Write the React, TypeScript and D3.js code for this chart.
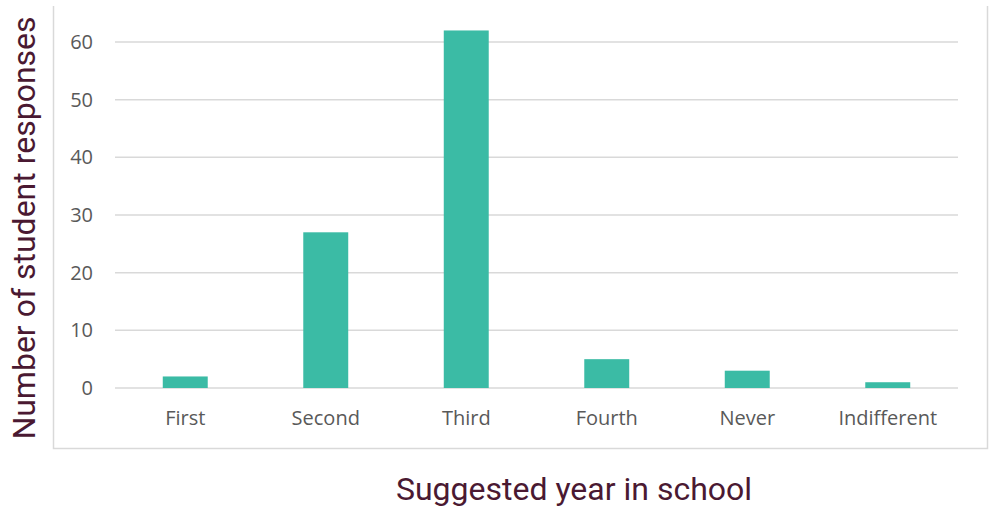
import React from "react";
import * as d3 from "d3";

const categories = ["First", "Second", "Third", "Fourth", "Never", "Indifferent"];
const values = [2, 27, 62, 5, 3, 1];
const yTicks = [0, 10, 20, 30, 40, 50, 60];

export default function App() {
  const W = 990, H = 510;
  const left = 115, right = 958, top = 42, bottom = 388;
  const x = d3.scaleBand<string>().domain(categories).range([left, right]).paddingInner(0.68).paddingOuter(0.34);
  const y = d3.scaleLinear().domain([0, 60]).range([bottom, top]);
  return (
    <svg width={W} height={H} style={{ position: "absolute", left: 0, top: 0 }}>
      <rect x={0} y={0} width={W} height={H} fill="#fff" />
      <path d="M53.5,6 V448.5 H987.5 V6" fill="none" stroke="#d9d9d9" strokeWidth={1.5} />
      {yTicks.map((t) => (
        <g key={t}>
          <line x1={left} x2={right} y1={y(t)} y2={y(t)} stroke="#d9d9d9" strokeWidth={1.5} />
          <text x={93} y={y(t)} dy="0.35em" textAnchor="end" fontFamily="Open Sans" fontSize={20} fill="#595959">{t}</text>
        </g>
      ))}
      {categories.map((c, i) => (
        <g key={c}>
          <rect x={x(c)} y={y(values[i])} width={x.bandwidth()} height={y(0) - y(values[i])} fill="#3bbba5" />
          <text x={(x(c) as number) + x.bandwidth() / 2} y={425} textAnchor="middle" fontFamily="Open Sans" fontSize={20} fill="#595959">{c}</text>
        </g>
      ))}
      <text transform="translate(35,228) rotate(-90)" textAnchor="middle" fontFamily="Roboto" fontSize={32} fill="#4a1932">Number of student responses</text>
      <text x={574} y={500} textAnchor="middle" fontFamily="Roboto" fontSize={32} fill="#4a1932">Suggested year in school</text>
    </svg>
  );
}
